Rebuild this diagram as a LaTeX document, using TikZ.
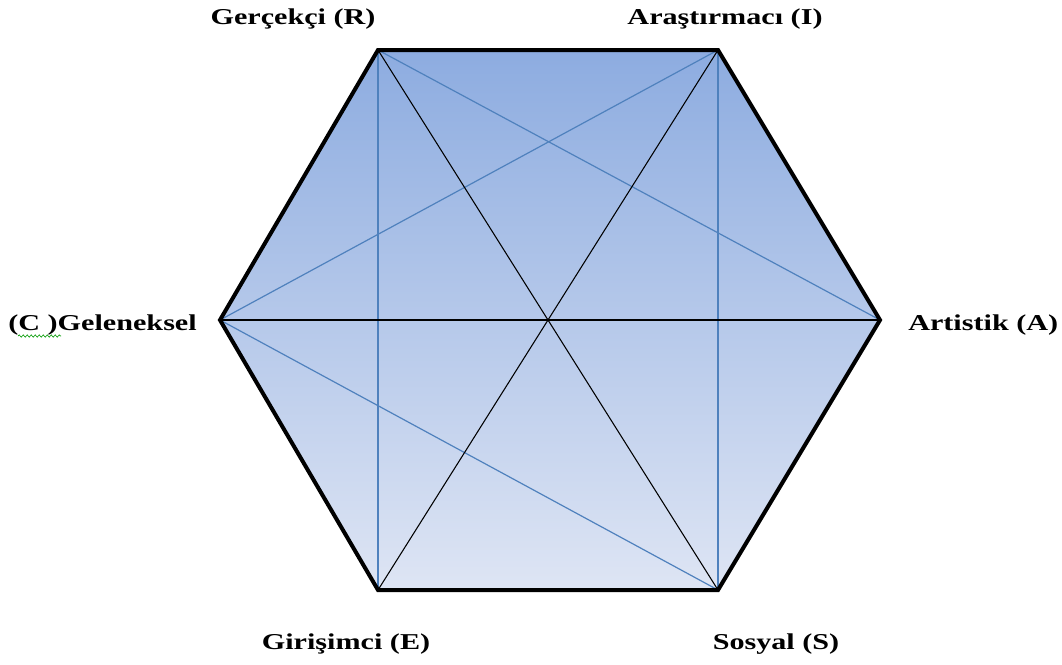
\documentclass[tikz,border=0pt]{standalone}
\usepackage{fontspec}
\setmainfont{Liberation Serif}
\usetikzlibrary{decorations.pathmorphing}
\definecolor{hexblue}{RGB}{79,129,189}
\definecolor{hextop}{RGB}{141,172,224}
\definecolor{hexbottom}{RGB}{222,229,244}
\tikzset{
  label text/.style={font=\fontsize{17}{19}\selectfont\bfseries, text=black, xscale=1.33},
  blue line/.style={draw=hexblue, line width=0.9pt},
  black line/.style={draw=black, line width=0.8pt}
}
\begin{document}
\begin{tikzpicture}[x=0.75pt,y=-0.75pt]
  \useasboundingbox (0,0) rectangle (1062,664);
  % Hexagon corners
  \coordinate (R) at (378,50);
  \coordinate (I) at (718,50);
  \coordinate (A) at (880,320);
  \coordinate (S) at (718,590);
  \coordinate (E) at (378,590);
  \coordinate (C) at (220,320);
  % Filled hexagon
  \shade[top color=hextop, bottom color=hexbottom] (R) -- (I) -- (A) -- (S) -- (E) -- (C) -- cycle;
  % Blue chords
  \draw[blue line] (R) -- (A);
  \draw[blue line] (C) -- (I);
  \draw[blue line] (C) -- (S);
  \draw[blue line] (R) -- (E);
  \draw[blue line] (I) -- (S);
  % Black diagonals
  \draw[black line] (R) -- (S);
  \draw[black line] (I) -- (E);
  \draw[black line] (C) -- (A);
  % Outline
  \draw[line width=3pt, line join=miter] (R) -- (I) -- (A) -- (S) -- (E) -- (C) -- cycle;
  % Labels
  \node[label text] (lR) at (293,19) {Gerçekçi (R)};
  \node[label text] (lI) at (725,19) {Araştırmacı (I)};
  \node[label text, anchor=east] (lC) at (203,325) {(C )Geleneksel};
  \node[label text, anchor=west] (lA) at (902,325) {Artistik (A)};
  \node[label text] (lE) at (346,644) {Girişimci (E)};
  \node[label text] (lS) at (776,644) {Sosyal (S)};
  % Spelling mark
  \draw[green!60!black, line width=0.5pt, decorate, decoration={snake, amplitude=0.8pt, segment length=3pt}]
    (18,336) -- (61,336);
\end{tikzpicture}
\end{document}
